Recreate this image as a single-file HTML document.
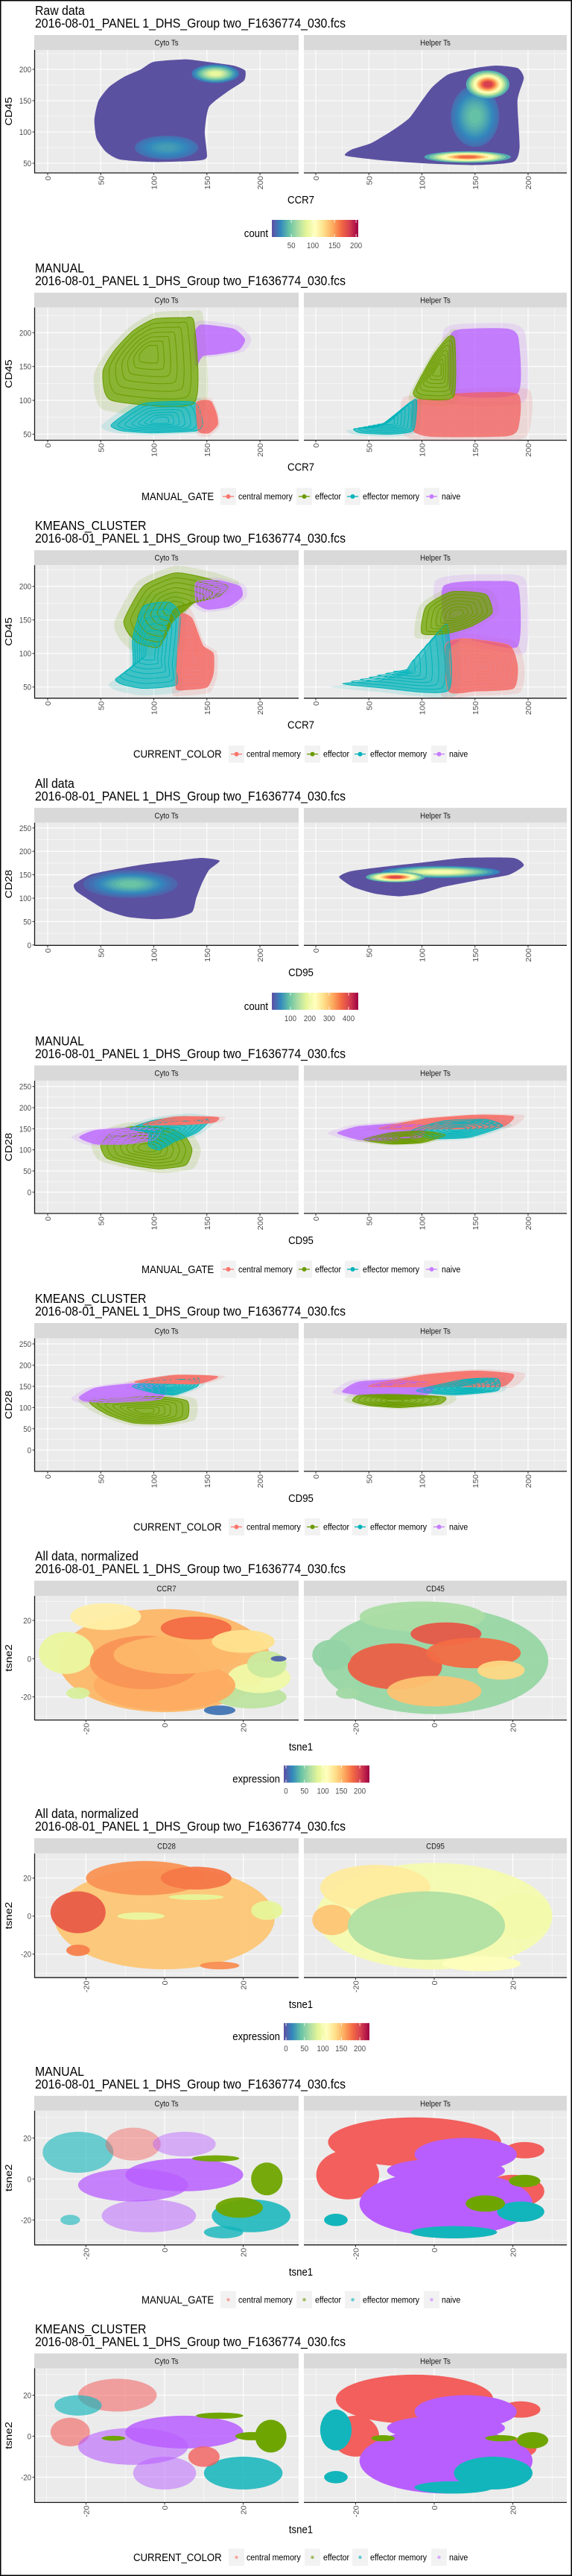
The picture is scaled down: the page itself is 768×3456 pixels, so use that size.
<!DOCTYPE html>
<html><head><meta charset="utf-8"><title>Flow cytometry gating panels</title>
<style>
html,body{margin:0;padding:0;background:#fff;}
svg{display:block;font-family:"Liberation Sans",Arial,sans-serif;}
</style></head>
<body>
<svg id="chart" xmlns="http://www.w3.org/2000/svg" width="768" height="3456" viewBox="0 0 768 3456">
<defs id="defs"></defs>
</svg>
<script>
// ====== DATA (data coordinates) ======
const catNames = ['central memory','effector','effector memory','naive'];
const catFill = ['#F25F5C','#6FA500','#12B5BB','#B85EFF'];
const catLine = ['#F8766D','#6B9A00','#00B3BA','#C77CFF'];

// Panel 1: raw CCR7 vs CD45 hex density
const p1Outline = [
 [[55,68],[68,56],[100,52],[140,54],[150,60],[148,100],[152,140],[170,165],[185,182],[186,198],[175,206],[150,212],[130,216],[100,212],[88,200],[72,188],[58,172],[48,150],[44,120],[46,90]],
 [[28,62],[60,55],[100,50],[150,47],[186,52],[192,75],[190,150],[196,186],[190,202],[170,206],[150,202],[125,192],[110,172],[100,150],[88,122],[72,102],[52,82],[34,72]]
];
const p1HotFacet = [0,0,1,1,1];
const p1HotX = [158,112,150,162,143];
const p1HotY = [193,75,125,176,60];
const p1HotSX = [12,22,14,11,22];
const p1HotSY = [8,14,30,12,5];
const p1HotPeak = [95,30,45,205,185];

// Panel 4: raw CD95 vs CD28 hex density
const p4Outline = [
 [[25,130],[40,150],[60,160],[90,172],[120,180],[145,186],[162,180],[152,160],[145,130],[140,100],[136,70],[120,58],[100,55],[75,60],[55,74],[40,95],[27,115]],
 [[22,145],[32,157],[60,166],[100,176],[140,186],[186,186],[196,170],[182,150],[152,138],[120,124],[100,110],[78,104],[55,110],[35,124]]
];
const p4HotFacet = [0,1,1];
const p4HotX = [78,118,75];
const p4HotY = [130,156,145];
const p4HotSX = [24,30,15];
const p4HotSY = [16,7,6];
const p4HotPeak = [100,230,430];

// Panel 2: MANUAL CCR7/CD45 regions
const p2Facet = [0,0,0,0,1,1,1,1];
const p2Cat = [3,1,2,0,3,0,1,2];
const p2Contour = [0,1,1,1,0,0,1,1];
const p2Shape = [
 [[138,200],[145,212],[175,206],[186,190],[180,174],[160,168],[146,165],[140,150],[138,180]],
 [[60,100],[138,96],[138,215],[128,222],[100,220],[80,202],[62,172],[52,142]],
 [[60,64],[90,95],[138,97],[146,66],[140,55],[100,52],[70,55]],
 [[142,55],[140,95],[147,100],[154,98],[159,80],[160,64],[152,52]],
 [[128,110],[126,192],[136,205],[180,206],[191,192],[190,110]],
 [[92,100],[91,56],[110,46],[180,47],[191,60],[190,110],[130,110],[128,102]],
 [[92,112],[110,165],[125,194],[131,188],[130,106],[100,102]],
 [[36,58],[60,62],[88,96],[95,100],[92,56],[70,50],[42,52]]
];

// Panel 3: KMEANS CCR7/CD45 regions
const p3Facet = [0,0,0,0,1,1,1,1];
const p3Cat = [1,3,2,0,3,0,2,1];
const p3Contour = [1,1,1,1,0,1,1,1];
const p3Shape = [
 [[72,150],[90,200],[120,220],[150,212],[170,200],[160,184],[140,178],[130,165],[118,148],[105,110],[86,115],[76,130]],
 [[140,176],[140,206],[160,209],[181,200],[183,185],[170,170],[150,166]],
 [[64,62],[80,82],[80,122],[90,170],[115,176],[125,155],[121,82],[121,53],[90,48],[70,54]],
 [[121,48],[122,90],[125,157],[136,152],[146,112],[156,100],[156,70],[150,50],[130,46]],
 [[124,110],[120,200],[170,208],[191,200],[190,110],[140,122]],
 [[125,44],[122,112],[140,122],[182,112],[190,80],[186,48],[150,44]],
 [[25,55],[60,60],[90,72],[110,120],[124,142],[125,45],[60,49]],
 [[100,130],[104,170],[128,192],[160,188],[166,160],[146,140],[124,130]]
];

// Panel 5: MANUAL CD95/CD28 regions
const p5Facet = [0,0,0,0,1,1,1,1];
const p5Cat = [1,3,2,0,0,2,1,3];
const p5Contour = [1,1,1,1,1,1,1,0];
const p5Shape = [
 [[50,110],[56,80],[80,64],[105,55],[130,64],[136,100],[130,130],[115,150],[80,155],[60,140]],
 [[30,130],[45,146],[80,152],[106,148],[100,124],[75,114],[45,114]],
 [[78,150],[100,170],[130,179],[152,170],[140,140],[120,120],[105,100],[95,110],[95,140]],
 [[90,160],[120,178],[160,177],[156,165],[130,160]],
 [[60,150],[100,172],[150,182],[186,179],[176,155],[140,150]],
 [[90,145],[120,168],[160,172],[176,156],[145,130],[110,127]],
 [[45,124],[70,140],[100,145],[122,135],[100,117],[70,114]],
 [[20,140],[40,156],[75,162],[102,158],[100,130],[70,120],[40,124]]
];

// Panel 6: KMEANS CD95/CD28 regions
const p6Facet = [0,0,0,0,1,1,1,1];
const p6Cat = [1,3,2,0,0,2,3,1];
const p6Contour = [1,1,1,1,1,1,0,1];
const p6Shape = [
 [[40,116],[55,85],[80,64],[106,62],[131,75],[131,116],[100,126]],
 [[30,125],[45,146],[80,156],[110,150],[106,120],[60,112],[35,115]],
 [[80,150],[110,171],[141,171],[141,150],[120,130],[100,135]],
 [[82,160],[120,176],[160,173],[140,156]],
 [[50,150],[100,176],[150,186],[186,178],[176,150],[130,150]],
 [[95,140],[140,166],[171,168],[171,140],[130,130]],
 [[25,136],[40,161],[80,166],[111,156],[105,130],[60,125]],
 [[35,115],[40,128],[70,131],[121,125],[116,108],[80,100],[50,105]]
];

// Panel 7: tsne expression CCR7 (facet 0) / CD45 (facet 1)
const p7Facet = [0,0,0,0,0,0,0,0,0,0,0,0,0,0, 1,1,1,1,1,1,1,1,1];
const p7Cx = [0,-25,22,24,-15,0,-5,3,8,20,26,14,29,-22,  0,-3,-10,3,10,0,17,-22,-26];
const p7Cy = [-1,3,-20,-10,22,-14,-2,2,16,9,-3,-27,0,-18,  -1,22,-4,13,3,-17,-6,-18,2];
const p7Rx = [27,7,9,8,9,18,14,16,9,8,5,4,2,3,  29,16,12,9,12,12,6,3,5];
const p7Ry = [27,11,6,8,7,13,14,10,6,6,7,2.5,1.5,3,  28,8,12,6,8,8,5,3,8];
const p7Val = [155,95,75,100,125,160,168,155,182,135,80,15,8,85,  62,68,188,192,182,150,140,65,60];

// Panel 8: tsne expression CD28 (facet 0) / CD95 (facet 1)
const p8Facet = [0,0,0,0,0,0,0,0,0, 1,1,1,1,1,1];
const p8Cx = [0,-22,-5,8,-6,8,26,-22,14,  0,-15,-26,22,12,-2];
const p8Cy = [-1,2,20,20,0,10,3,-18,-26,  0,15,-2,0,-25,-5];
const p8Rx = [28,7,15,9,6,7,4,3,5,  30,14,5,8,10,20];
const p8Ry = [27,11,9,6,2,1.5,5,3,2,  28,12,8,12,4,18];
const p8Val = [148,190,168,178,95,92,92,175,170,  105,128,148,102,112,70];

// Panel 9: MANUAL tsne categories
const p9Facet = [0,0,0,0,0,0,0,0,0,0,0,0, 1,1,1,1,1,1,1,1,1,1,1,1];
const p9Cat = [2,0,3,3,3,3,2,1,1,2,2,1,  0,0,0,0,3,3,3,2,2,1,1,2];
const p9Cx = [-22,-8,5,-8,-4,5,22,26,19,15,-24,13,  -5,-22,23,20,3,8,3,5,22,13,23,-25];
const p9Cy = [13,17,17,-3,-18,2,-18,0,-14,-26,-20,10,  18,2,14,-6,-12,12,4,-26,-16,-12,-1,-20];
const p9Rx = [9,7,8,14,12,15,10,4,6,5,2.5,6,  22,8,5,8,22,13,15,11,6,5,4,3];
const p9Ry = [10,8,6,8,8,8,8,8,5,3,2.5,1.5,  12,12,4,8,16,8,6,3,5,4,3,3];
const p9Alpha = [0.6,0.45,0.45,0.75,0.5,0.85,0.85,0.95,0.95,0.8,0.6,0.95,  1,1,1,1,1,1,1,1,1,1,1,1];

// Panel 10: KMEANS tsne categories
const p10Facet = [0,0,0,0,0,0,0,0,0,0,0,0, 1,1,1,1,1,1,1,1,1,1,1,1,1,1];
const p10Cat = [0,0,2,3,3,3,1,1,1,2,0,1,  0,0,0,0,2,3,3,3,1,1,1,2,2,2];
const p10Cx = [-12,-24,-22,-8,5,0,-13,27,22,20,10,14,  -5,-20,22,20,-25,3,8,3,-13,17,25,15,5,-25];
const p10Cy = [20,2,15,-5,2,-18,-1,0,0,-18,-10,10,  18,0,13,-6,3,-12,12,4,-1,-1,-2,-18,-25,-20];
const p10Rx = [10,5,6,14,15,8,3,4,4,10,4,6,  20,6,5,6,4,22,13,15,3,4,4,10,10,3];
const p10Ry = [8,7,5,9,8,8,1.2,8,2,8,5,1.5,  12,10,4,5,10,16,8,6,1.5,1.5,4,8,3,3];
const p10Alpha = [0.55,0.6,0.65,0.6,0.85,0.5,1,1,1,0.85,0.8,1,  1,1,1,1,1,1,1,1,1,1,1,1,1,1];

// colour-bar tick labels
const countTicks1 = [50,100,150,200];
const countTicks4 = [100,200,300,400];
const exprTicks = [0,50,100,150,200];

// ====== RENDERING ======
const NS = 'http://www.w3.org/2000/svg';
const svg = document.getElementById('chart');
const defs = document.getElementById('defs');
const PH = 345.6;
const SX = 0.88;
const SPEC = ['#5E4FA2','#3288BD','#66C2A5','#ABDDA4','#E6F598','#FFFFBF','#FEE08B','#FDAE61','#F46D43','#D53E4F','#9E0142'];

function mk(tag, attrs, parent){
  const e = document.createElementNS(NS, tag);
  for (const k in attrs) e.setAttribute(k, attrs[k]);
  (parent || svg).appendChild(e);
  return e;
}
function txt(parent, x, y, s, size, anchor, color, rot){
  const g = mk('g', {transform: `translate(${x},${y}) scale(${SX},1)` + (rot ? ` rotate(${rot})` : '')}, parent);
  const t = mk('text', {x:0, y:0, 'font-size':size, 'text-anchor':anchor || 'start', fill: color || '#000'}, g);
  t.textContent = s;
  return g;
}
function hex2rgb(h){return [parseInt(h.substr(1,2),16),parseInt(h.substr(3,2),16),parseInt(h.substr(5,2),16)];}
function spec(t){
  t = Math.max(0, Math.min(1, t));
  const f = t * 10, i = Math.min(9, Math.floor(f)), u = f - i;
  const a = hex2rgb(SPEC[i]), b = hex2rgb(SPEC[i+1]);
  return `rgb(${a.map((v,k)=>Math.round(v+(b[k]-v)*u)).join(',')})`;
}
function smooth(P){
  const n = P.length; let d = `M${P[0][0].toFixed(1)},${P[0][1].toFixed(1)}`;
  for (let i=0;i<n;i++){
    const p0=P[(i-1+n)%n], p1=P[i], p2=P[(i+1)%n], p3=P[(i+2)%n];
    const c1=[p1[0]+(p2[0]-p0[0])/10, p1[1]+(p2[1]-p0[1])/10];
    const c2=[p2[0]-(p3[0]-p1[0])/10, p2[1]-(p3[1]-p1[1])/10];
    d += `C${c1[0].toFixed(1)},${c1[1].toFixed(1)} ${c2[0].toFixed(1)},${c2[1].toFixed(1)} ${p2[0].toFixed(1)},${p2[1].toFixed(1)}`;
  }
  return d + 'Z';
}
function scaleShape(S, f){
  const cx = S.reduce((a,p)=>a+p[0],0)/S.length, cy = S.reduce((a,p)=>a+p[1],0)/S.length;
  return S.map(p=>[cx+(p[0]-cx)*f, cy+(p[1]-cy)*f]);
}

const FLOW = {zero:[64,424], k:1.425, ticks:[0,50,100,150,200], minor:[25,75,125,175,225]};
const TSNE = {zero:[221,583], k:5.28, ticks:[-20,0,20], minor:[-30,-10,10,30]};
const FX = [[46,401],[408,761]];

const LAYOUT = [
 {t1:'Raw data', xs:FLOW, top:67, bottom:232, yA:[200,93], yB:[50,219], yt:[50,100,150,200], ym:[75,125,175,225], xTitle:'CCR7', yTitle:'CD45', strips:['Cyto Ts','Helper Ts']},
 {t1:'MANUAL', xs:FLOW, top:67, bottom:245, yA:[200,100.7], yB:[50,236.9], yt:[50,100,150,200], ym:[75,125,175,225], xTitle:'CCR7', yTitle:'CD45', strips:['Cyto Ts','Helper Ts']},
 {t1:'KMEANS_CLUSTER', xs:FLOW, top:67, bottom:245.5, yA:[200,95.5], yB:[50,230.5], yt:[50,100,150,200], ym:[75,125,175,225], xTitle:'CCR7', yTitle:'CD45', strips:['Cyto Ts','Helper Ts']},
 {t1:'All data', xs:FLOW, top:67, bottom:231.5, yA:[250,74], yB:[0,231], yt:[0,50,100,150,200,250], ym:[25,75,125,175,225], xTitle:'CD95', yTitle:'CD28', strips:['Cyto Ts','Helper Ts']},
 {t1:'MANUAL', xs:FLOW, top:67.5, bottom:245.6, yA:[250,75.3], yB:[0,216.9], yt:[0,50,100,150,200,250], ym:[-25,25,75,125,175,225], xTitle:'CD95', yTitle:'CD28', strips:['Cyto Ts','Helper Ts']},
 {t1:'KMEANS_CLUSTER', xs:FLOW, top:67.5, bottom:246, yA:[250,75], yB:[0,217.3], yt:[0,50,100,150,200,250], ym:[-25,25,75,125,175,225], xTitle:'CD95', yTitle:'CD28', strips:['Cyto Ts','Helper Ts']},
 {t1:'All data, normalized', xs:TSNE, top:67.5, bottom:234, yA:[20,100.4], yB:[-20,203], yt:[-20,0,20], ym:[-30,-10,10,30], xTitle:'tsne1', yTitle:'tsne2', strips:['CCR7','CD45']},
 {t1:'All data, normalized', xs:TSNE, top:67.5, bottom:234, yA:[20,100.5], yB:[-20,202.5], yt:[-20,0,20], ym:[-30,-10,10,30], xTitle:'tsne1', yTitle:'tsne2', strips:['CD28','CD95']},
 {t1:'MANUAL', xs:TSNE, top:67, bottom:247, yA:[20,103.5], yB:[-20,213.5], yt:[-20,0,20], ym:[-30,-10,10,30], xTitle:'tsne1', yTitle:'tsne2', strips:['Cyto Ts','Helper Ts']},
 {t1:'KMEANS_CLUSTER', xs:TSNE, top:67, bottom:247, yA:[20,103], yB:[-20,213], yt:[-20,0,20], ym:[-30,-10,10,30], xTitle:'tsne1', yTitle:'tsne2', strips:['Cyto Ts','Helper Ts']}
];

function scales(pi){
  const L = LAYOUT[pi], T = pi*PH;
  const ky = (L.yB[1]-L.yA[1])/(L.yB[0]-L.yA[0]);
  return {
    x: (f,v) => L.xs.zero[f] + v*L.xs.k,
    y: v => T + L.yA[1] + (v - L.yA[0])*ky,
    kx: L.xs.k, ky: Math.abs(ky)
  };
}

function drawFrame(pi){
  const L = LAYOUT[pi], T = pi*PH, S = scales(pi);
  const g = mk('g', {});
  
  
  const tg = mk('g', {}, g);
  
  
  txt(tg, 47, T+20, L.t1, 18);
  txt(tg, 47, T+37, '2016-08-01_PANEL 1_DHS_Group two_F1636774_030.fcs', 18);
  const top = T + L.top, bot = T + L.bottom;
  for (let f=0; f<2; f++){
    const x0 = FX[f][0], x1 = FX[f][1];
    const st = mk('rect', {x:x0, y:T+47, width:x1-x0, height:L.top-47, fill:'#D9D9D9'}, g);
    
    
    txt(g, (x0+x1)/2, T+47+(L.top-47)/2+4, L.strips[f], 11, 'middle', '#1A1A1A');
    mk('rect', {x:x0, y:top, width:x1-x0, height:bot-top, fill:'#EBEBEB'}, g);
    const cp = mk('clipPath', {id:`clip${pi}_${f}`}, defs);
    mk('rect', {x:x0, y:top, width:x1-x0, height:bot-top}, cp);
    L.xs.minor.forEach(v=>{const px=S.x(f,v); if(px>x0&&px<x1) mk('line',{x1:px,x2:px,y1:top,y2:bot,stroke:'#fff','stroke-width':0.5},g);});
    L.ym.forEach(v=>{const py=S.y(v); if(py>top&&py<bot) mk('line',{x1:x0,x2:x1,y1:py,y2:py,stroke:'#fff','stroke-width':0.5},g);});
    L.xs.ticks.forEach(v=>{
      const px=S.x(f,v);
      mk('line',{x1:px,x2:px,y1:top,y2:bot,stroke:'#fff','stroke-width':1.1},g);
      mk('line',{x1:px,x2:px,y1:bot,y2:bot+3,stroke:'#333','stroke-width':1},g);
      const lab = txt(g, px+4, bot+4, String(v), 11, 'end', '#4D4D4D', -90);
      
      
    });
    L.yt.forEach(v=>{const py=S.y(v); mk('line',{x1:x0,x2:x1,y1:py,y2:py,stroke:'#fff','stroke-width':1.1},g);});
    const ax = mk('line', {x1:x0, x2:x1, y1:bot, y2:bot, stroke:'#1A1A1A', 'stroke-width':1.3}, g);
    
    
  }
  const ay = mk('line', {x1:46.5, x2:46.5, y1:top, y2:bot, stroke:'#1A1A1A', 'stroke-width':1.3}, g);
  
  
  L.yt.forEach(v=>{
    const py=S.y(v);
    mk('line',{x1:43.5,x2:46.5,y1:py,y2:py,stroke:'#333','stroke-width':1},g);
    const lab = txt(g, 42, py+4, String(v), 11, 'end', '#4D4D4D');
    
    
  });
  const xt = txt(g, 404, T+L.bottom+41, L.xTitle, 15, 'middle');
  
  
  const yt = txt(g, 16, (top+bot)/2, L.yTitle, 15, 'middle', '#000', -90);
  
  
  return g;
}

function layer(pi, f, parent){
  const g = mk('g', {'clip-path':`url(#clip${pi}_${f})`}, parent);
  
  
  return g;
}

function drawHex(pi, outlines, hf, hx, hy, hsx, hsy, hpeak, vmax){
  const g = drawFrame(pi), S = scales(pi);
  const L0 = [layer(pi,0,g), layer(pi,1,g)];
  outlines.forEach((o,f)=>{
    const p = mk('path', {d: smooth(o.map(q=>[S.x(f,q[0]), S.y(q[1])])), fill:'#5B51A1'}, L0[f]);
    
    
  });
  hx.forEach((cx,i)=>{
    const f = hf[i], N = 10, base = Math.max(12, hpeak[i]*0.18);
    for (let j=0;j<N;j++){
      const lv = base + (hpeak[i]-base)*j/N;
      const r = Math.sqrt(2*Math.log(hpeak[i]/lv));
      const e = mk('ellipse', {cx:S.x(f,cx), cy:S.y(hy[i]), rx:hsx[i]*r*S.kx, ry:hsy[i]*r*S.ky, fill:spec(lv/vmax)}, L0[f]);
      
      
    }
  });
  return g;
}

function drawRegions(pi, fac, cat, cont, shapes){
  const g = drawFrame(pi), S = scales(pi);
  const L0 = [layer(pi,0,g), layer(pi,1,g)];
  const toPx = (f,sh)=>sh.map(q=>[S.x(f,q[0]), S.y(q[1])]);
  shapes.forEach((sh,i)=>{
    const h = mk('path', {d: smooth(toPx(fac[i], scaleShape(sh,1.2))), fill:catFill[cat[i]], 'fill-opacity':0.14}, L0[fac[i]]);
    
    
  });
  shapes.forEach((sh,i)=>{
    const c = mk('path', {d: smooth(toPx(fac[i], sh)), fill:catFill[cat[i]], 'fill-opacity':0.75}, L0[fac[i]]);
    
    
  });
  shapes.forEach((sh,i)=>{
    if (!cont[i]) return;
    [1.0,0.86,0.72,0.58,0.45,0.32,0.2].forEach(fr=>{
      const c = mk('path', {d: smooth(toPx(fac[i], scaleShape(sh,fr))), fill:'none', stroke:catLine[cat[i]], 'stroke-width':1}, L0[fac[i]]);
      
      
    });
  });
  return g;
}

function drawBlobs(pi, fac, cx, cy, rx, ry, colorOf, alphaOf){
  const g = drawFrame(pi), S = scales(pi);
  const L0 = [layer(pi,0,g), layer(pi,1,g)];
  cx.forEach((v,i)=>{
    const f = fac[i];
    const e = mk('ellipse', {cx:S.x(f,v), cy:S.y(cy[i]), rx:rx[i]*S.kx, ry:ry[i]*S.ky, fill:colorOf(i), 'fill-opacity':alphaOf(i)}, L0[f]);
    
    
  });
  return g;
}

function colorbar(pi, title, ticks, vmin, vmax, x0, x1){
  const T = pi*PH;
  const g = mk('g', {});
  
  
  const gid = 'grad' + pi;
  const lg = mk('linearGradient', {id:gid, x1:0, x2:1, y1:0, y2:0}, defs);
  SPEC.forEach((c,i)=>mk('stop', {offset:(i/10), 'stop-color':c}, lg));
  mk('rect', {x:x0, y:T+295, width:x1-x0, height:23, fill:`url(#${gid})`}, g);
  txt(g, x0-5, T+318, title, 15, 'end');
  ticks.forEach(v=>{
    const px = x0 + (v-vmin)/(vmax-vmin)*(x1-x0);
    mk('line', {x1:px, x2:px, y1:T+295, y2:T+299, stroke:'#fff', 'stroke-width':0.8}, g);
    mk('line', {x1:px, x2:px, y1:T+314, y2:T+318, stroke:'#fff', 'stroke-width':0.8}, g);
    const t = txt(g, px, T+333, String(v), 11, 'middle', '#4D4D4D');
    
    
  });
}

function catLegend(pi, title, pointOnly){
  const T = pi*PH, cy = T + 320.5;
  const manual = title === 'MANUAL_GATE';
  const tx = manual ? 190 : 179;
  const keys = manual ? [296,398,463,569] : [307,409,473,579];
  const labs = manual ? [320,423,487,593] : [331,434,497,603];
  const g = mk('g', {});
  
  
  txt(g, tx, cy+5, title, 15);
  catNames.forEach((n,i)=>{
    const e = mk('g', {}, g);
    
    
    mk('rect', {x:keys[i], y:cy-11.5, width:21, height:23, fill:'#F2F2F2'}, e);
    if (!pointOnly) mk('line', {x1:keys[i]+3, x2:keys[i]+18, y1:cy, y2:cy, stroke:catLine[i], 'stroke-width':1.3}, e);
    mk('circle', {cx:keys[i]+10.5, cy:cy, r:pointOnly?2.2:3, fill:catLine[i], 'fill-opacity':pointOnly?0.6:1}, e);
    txt(e, labs[i], cy+4, n, 12);
  });
}

// Panels
drawHex(0, p1Outline, p1HotFacet, p1HotX, p1HotY, p1HotSX, p1HotSY, p1HotPeak, 210);
colorbar(0, 'count', countTicks1, 5, 205, 365, 481);
drawRegions(1, p2Facet, p2Cat, p2Contour, p2Shape);
catLegend(1, 'MANUAL_GATE', false);
drawRegions(2, p3Facet, p3Cat, p3Contour, p3Shape);
catLegend(2, 'CURRENT_COLOR', false);
drawHex(3, p4Outline, p4HotFacet, p4HotX, p4HotY, p4HotSX, p4HotSY, p4HotPeak, 450);
colorbar(3, 'count', countTicks4, 4, 450, 365, 481);
drawRegions(4, p5Facet, p5Cat, p5Contour, p5Shape);
catLegend(4, 'MANUAL_GATE', false);
drawRegions(5, p6Facet, p6Cat, p6Contour, p6Shape);
catLegend(5, 'CURRENT_COLOR', false);
drawBlobs(6, p7Facet, p7Cx, p7Cy, p7Rx, p7Ry, i=>spec(p7Val[i]/227), i=>0.95);
colorbar(6, 'expression', exprTicks, -6, 226, 381, 496);
drawBlobs(7, p8Facet, p8Cx, p8Cy, p8Rx, p8Ry, i=>spec(p8Val[i]/227), i=>0.95);
colorbar(7, 'expression', exprTicks, -6, 226, 381, 496);
drawBlobs(8, p9Facet, p9Cx, p9Cy, p9Rx, p9Ry, i=>catFill[p9Cat[i]], i=>p9Alpha[i]);
catLegend(8, 'MANUAL_GATE', true);
drawBlobs(9, p10Facet, p10Cx, p10Cy, p10Rx, p10Ry, i=>catFill[p10Cat[i]], i=>p10Alpha[i]);
catLegend(9, 'CURRENT_COLOR', true);

const border = mk('rect', {x:0.75, y:0.75, width:766.5, height:3454.5, fill:'none', stroke:'#000', 'stroke-width':1.5});


</script>
</body></html>
